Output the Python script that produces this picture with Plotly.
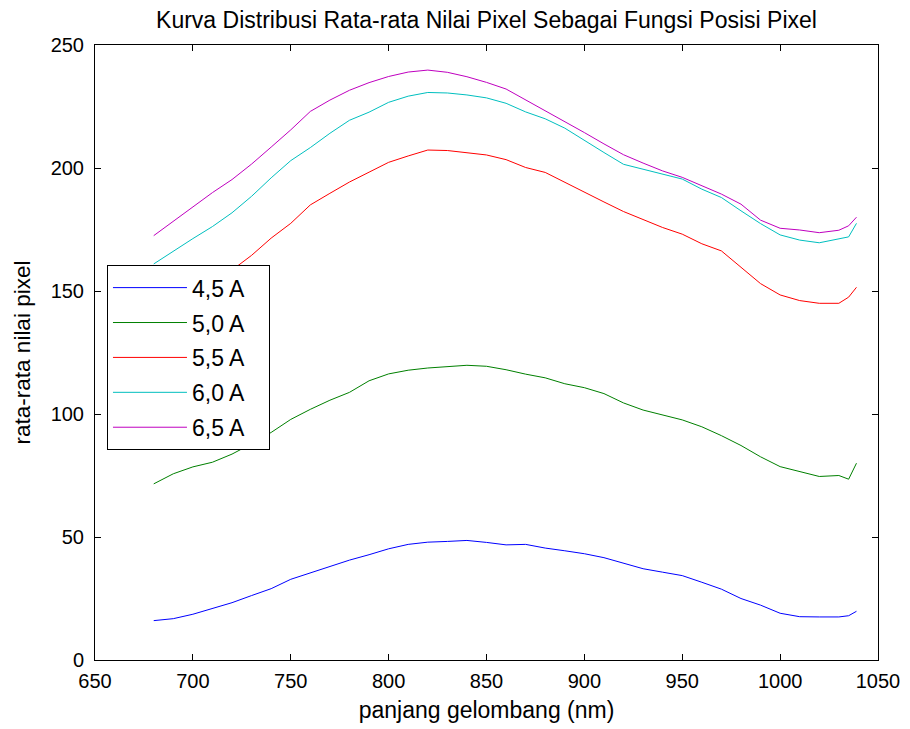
import plotly.graph_objects as go

wavelength = [680, 690, 700, 710, 720, 730, 740, 750, 760, 770, 780, 790, 800, 810, 820,
              830, 840, 850, 860, 870, 880, 890, 900, 910, 920, 930, 940, 950, 960, 970,
              980, 990, 1000, 1010, 1020, 1030, 1035, 1039]

s45 = [16.0, 16.8, 18.6, 20.9, 23.3, 26.2, 29.0, 32.8, 35.4, 37.9, 40.6, 42.8, 45.2, 47.0, 47.9,
       48.2, 48.6, 47.8, 46.8, 47.0, 45.5, 44.4, 43.2, 41.6, 39.5, 37.1, 35.7, 34.3, 31.6, 28.8,
       25.0, 22.3, 19.0, 17.6, 17.5, 17.5, 18.0, 19.8]

s50 = [71.6, 75.7, 78.5, 80.4, 83.7, 87.9, 92.5, 97.8, 101.9, 105.6, 108.8, 113.5, 116.3, 117.8, 118.7,
       119.2, 119.8, 119.4, 118.0, 116.2, 114.7, 112.3, 110.7, 108.3, 104.5, 101.6, 99.7, 97.6, 94.8, 91.2,
       87.2, 82.6, 78.6, 76.5, 74.6, 75.0, 73.5, 80.0]

s55 = [136.0, 142.0, 147.5, 153.0, 158.5, 164.5, 171.5, 177.5, 185.0, 189.7, 194.3, 198.3, 202.3, 204.9, 207.3,
       207.1, 206.3, 205.3, 203.4, 200.2, 198.2, 194.1, 190.2, 186.2, 182.3, 179.0, 175.8, 173.1, 169.2, 166.3,
       159.6, 153.0, 148.4, 146.1, 145.0, 145.0, 147.5, 151.5]

s60 = [161.0, 166.3, 171.3, 176.2, 181.8, 188.5, 196.0, 203.0, 208.3, 214.1, 219.4, 222.7, 226.7, 229.2, 230.7,
       230.5, 229.7, 228.5, 226.3, 222.8, 220.0, 216.2, 211.1, 206.3, 201.5, 199.6, 197.5, 195.5, 191.4, 188.0,
       182.6, 177.4, 172.8, 170.7, 169.6, 171.0, 172.0, 177.5]

s65 = [172.5, 178.3, 184.2, 190.0, 195.3, 201.6, 208.5, 215.5, 223.0, 227.6, 231.6, 234.7, 237.2, 239.0, 239.8,
       238.9, 237.1, 234.8, 232.1, 227.7, 223.2, 219.0, 214.4, 209.8, 205.4, 202.0, 198.8, 196.2, 192.8, 189.4,
       185.3, 178.8, 175.5, 174.8, 173.7, 174.7, 176.5, 180.0]

names = ["4,5 A", "5,0 A", "5,5 A", "6,0 A", "6,5 A"]
series = [s45, s50, s55, s60, s65]
colors = ["#0000FF", "#008000", "#FF0000", "#00BFBF", "#BF00BF"]

x_ticks = [650, 700, 750, 800, 850, 900, 950, 1000, 1050]
y_ticks = [0, 50, 100, 150, 200, 250]

FONT = "Liberation Sans, Arial, sans-serif"

fig = go.Figure()
for i, (nm, ys, c) in enumerate(zip(names, series, colors)):
    fig.add_trace(go.Scatter(x=wavelength, y=ys, mode="lines", name=nm + "\u00a0\u00a0\u00a0",
                             line=dict(color=c, width=1), legendgroup=f"g{i}"))

axis_common = dict(showline=True, linecolor="black", linewidth=1, mirror="ticks",
                   ticks="inside", ticklen=6, tickcolor="black", tickwidth=1,
                   showgrid=False, zeroline=False, automargin=False,
                   tickfont=dict(family=FONT, size=20, color="black"))

fig.update_layout(
    width=910, height=729,
    margin=dict(l=87, r=40, t=37, b=77),
    paper_bgcolor="white", plot_bgcolor="white",
    font=dict(family=FONT, color="black"),
    title=dict(text="Kurva Distribusi Rata-rata Nilai Pixel Sebagai Fungsi Posisi Pixel",
               x=0.5, xref="paper", xanchor="center", y=0.983, yanchor="middle",
               font=dict(family=FONT, size=23, color="black")),
    xaxis=dict(range=[650, 1050], tickvals=x_ticks, ticktext=[str(v) for v in x_ticks],
               title=dict(text="panjang gelombang (nm)", font=dict(family=FONT, size=23), standoff=10),
               ticklabelstandoff=3,
               **axis_common),
    yaxis=dict(range=[0, 250], tickvals=y_ticks, ticktext=[str(v) for v in y_ticks],
               title=dict(text="rata-rata nilai pixel", font=dict(family=FONT, size=22.5), standoff=13),
               ticklabelstandoff=6,
               **axis_common),
    legend=dict(x=0.0153, y=0.642, xanchor="left", yanchor="top",
                bgcolor="white", bordercolor="black", borderwidth=1,
                font=dict(family=FONT, size=23, color="black"),
                tracegroupgap=2, itemwidth=74),
    showlegend=True,
)

fig.write_html("out.html")
